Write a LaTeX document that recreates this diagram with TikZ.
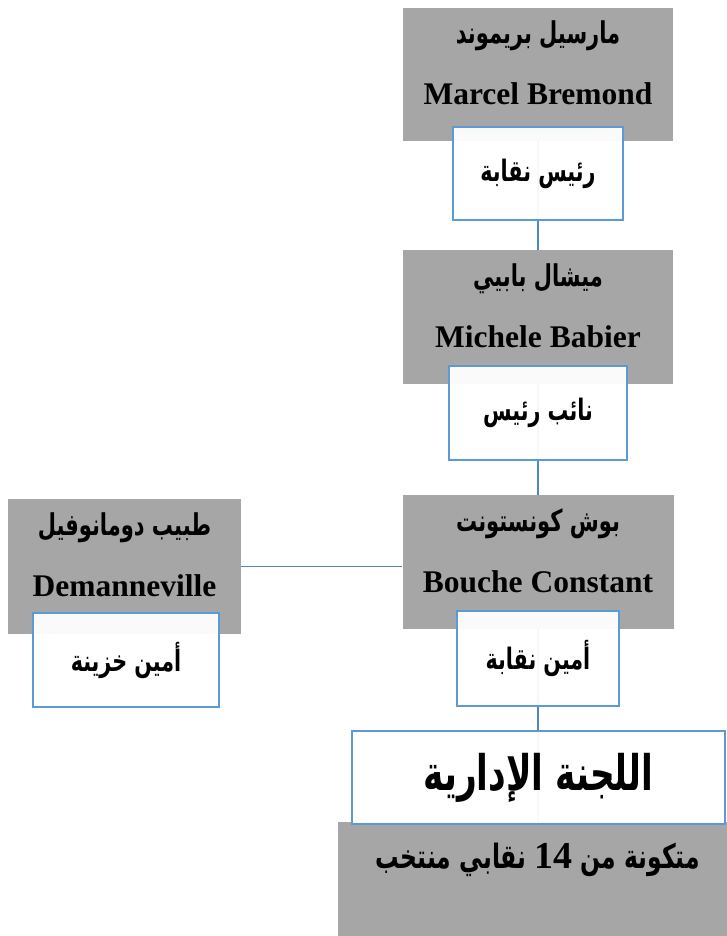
\documentclass[tikz,border=0pt]{standalone}
\usepackage{fontspec}
\setmainfont{Liberation Serif}
\newfontfamily\arabicfont[Script=Arabic, FakeStretch=0.7]{DejaVu Sans}
\TeXXeTstate=1
\definecolor{boxgrey}{HTML}{A6A6A6}
\definecolor{roleblue}{HTML}{5B9BD5}
\definecolor{linkblue}{HTML}{4F86C6}
\def\arab#1{{\arabicfont\bfseries\beginR #1\endR}}
\def\arabname#1{{\fontsize{30}{34}\selectfont\arab{#1}}}

\begin{document}
\begin{tikzpicture}[x=1pt, y=-1pt,
  grey/.style={fill=boxgrey, inner sep=0pt},
  role/.style={draw=roleblue, line width=1.5pt, fill=white, fill opacity=0.95, text opacity=1, inner sep=0pt, font=\fontsize{29.5}{34}\selectfont},
  who/.style={align=center, font=\fontsize{31.5}{61}\selectfont\bfseries},
  link/.style={draw=linkblue, line width=1.5pt}]
  \useasboundingbox (0,0) rectangle (727,936);

  \node[grey, minimum width=270pt, minimum height=133pt] (pres) at (538,74.5) {};
  \node[grey, minimum width=270pt, minimum height=134pt] (vice) at (538,317) {};
  \node[grey, minimum width=271pt, minimum height=134pt] (sec)  at (538,562) {};
  \node[grey, minimum width=233pt, minimum height=135pt] (tres) at (124.5,566.5) {};
  \node[grey, minimum width=389pt, minimum height=114pt] (memb) at (532.5,879) {};

  \node[who] (presn) at (538,63)  {\arabname{مارسيل بريموند}\\Marcel Bremond};
  \node[who] (vicen) at (538,306) {\arabname{ميشال بابيي}\\Michele Babier};
  \node[who] (secn)  at (538,551) {\arabname{بوش كونستونت}\\Bouche Constant};
  \node[who] (tresn) at (124.5,555) {\arabname{طبيب دومانوفيل}\\Demanneville};
  \node[font=\fontsize{33.5}{38}\selectfont] (membn) at (538,860) {\arab{متكونة من \beginL{\normalfont\bfseries\fontsize{38}{40}\selectfont 14}\endL{} نقابي منتخب}};

  \draw[link] (pres) -- (vice);
  \draw[link] (vice) -- (sec);
  \draw[link] (sec.south) -- (sec.south |- memb.north);
  \draw[link] (tres.east) -- (tres.east -| sec.west);

  \node[role, minimum width=170pt, minimum height=93pt] (presr) at (538,173.5) {\arab{رئيس نقابة}};
  \node[role, minimum width=178pt, minimum height=94pt] (vicer) at (538,413)   {\arab{نائب رئيس}};
  \node[role, minimum width=162pt, minimum height=95pt] (secr)  at (538,658.5) {\arab{أمين نقابة}};
  \node[role, minimum width=186pt, minimum height=94pt] (tresr) at (126,660)   {\arab{أمين خزينة}};
  \node[role, minimum width=373pt, minimum height=93pt, font=\fontsize{49}{56}\selectfont] (comm) at (538.5,777.5) {\arab{اللجنة الإدارية}};
\end{tikzpicture}
\end{document}
